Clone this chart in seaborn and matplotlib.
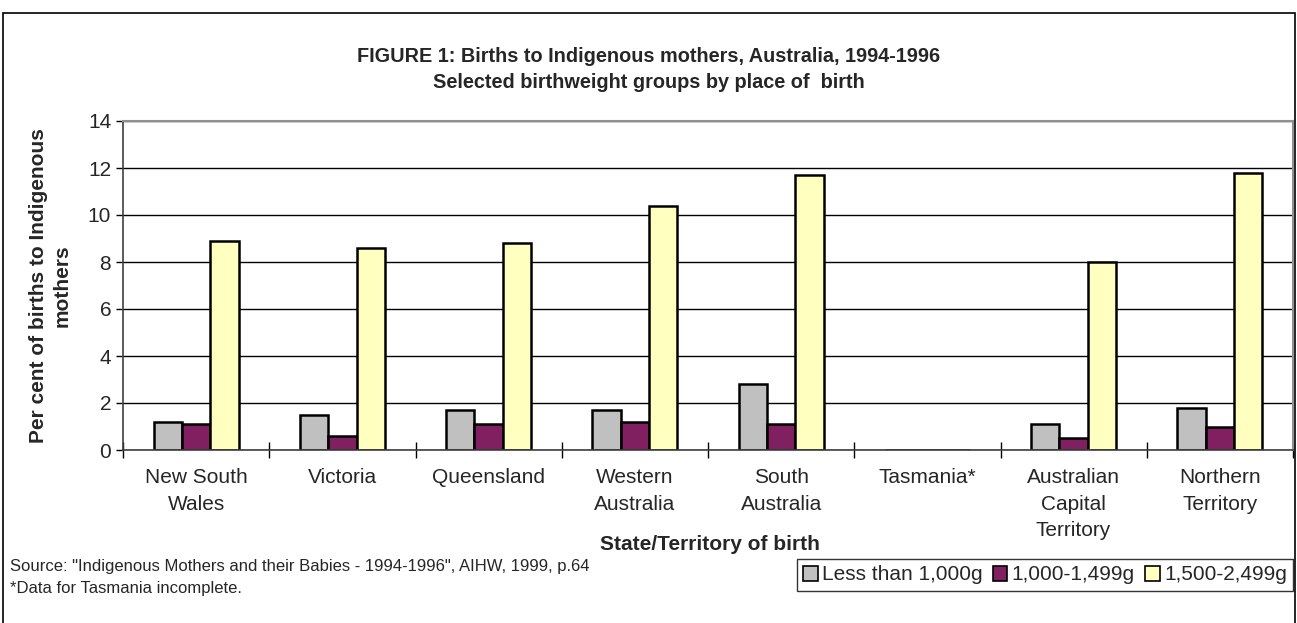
import numpy as np
import pandas as pd
import matplotlib
matplotlib.use("Agg")
import matplotlib.pyplot as plt
import seaborn as sns
from matplotlib.patches import Rectangle

# Data
states = ['New South\nWales', 'Victoria', 'Queensland', 'Western\nAustralia',
          'South\nAustralia', 'Tasmania*', 'Australian\nCapital\nTerritory',
          'Northern\nTerritory']
groups = ['Less than 1,000g', '1,000-1,499g', '1,500-2,499g']
less_1000 = [1.2, 1.5, 1.7, 1.7, 2.8, 0.0, 1.1, 1.8]
g1000_1499 = [1.1, 0.6, 1.1, 1.2, 1.1, 0.0, 0.5, 1.0]
g1500_2499 = [8.9, 8.6, 8.8, 10.4, 11.7, 0.0, 8.0, 11.8]
colors = ['#C0C0C0', '#802060', '#FFFFC0']

df = pd.DataFrame({'State': states * 3,
                   'Group': [g for g in groups for _ in states],
                   'Percent': less_1000 + g1000_1499 + g1500_2499})

sns.set_style('white')
plt.rcParams['font.family'] = ['Liberation Sans', 'DejaVu Sans']

W, H = 1297, 623
FS = 15
fig = plt.figure(figsize=(W / 100, H / 100), dpi=100)
ax = fig.add_axes([123 / W, 1 - 450 / H, (1293 - 123) / W, (450 - 121) / H])

sns.barplot(data=df, x='State', y='Percent', hue='Group', palette=colors,
            width=0.58, edgecolor='black', linewidth=1.8, saturation=1,
            legend=False, ax=ax)

ax.set_ylim(0, 14)
ax.set_yticks(np.arange(0, 15, 2))
ax.set_xlim(-0.5, len(states) - 0.5)
ax.yaxis.grid(True, color='black', linewidth=1)
ax.set_axisbelow(True)
for s in ['top', 'right']:
    ax.spines[s].set_color('#909090')
    ax.spines[s].set_linewidth(1.5)
for s in ['left', 'bottom']:
    ax.spines[s].set_color('#404040')
    ax.spines[s].set_linewidth(1.2)

ax.tick_params(axis='x', which='major', length=0, labelsize=FS, pad=13)
ax.set_xticks(np.arange(len(states) + 1) - 0.5, minor=True)
ax.tick_params(axis='x', which='minor', bottom=True, length=12,
               direction='inout', width=1, color='black')
ax.tick_params(axis='y', length=5, labelsize=FS, left=True, width=1, color='black')
for lbl in ax.get_xticklabels():
    lbl.set_verticalalignment('top')
    lbl.set_linespacing(1.5)

ax.set_xlabel('')
ax.set_ylabel('Per cent of births to Indigenous\nmothers', fontsize=FS,
              fontweight='bold', labelpad=12, linespacing=1.3)
fig.text(710 / W, 1 - 545 / H, 'State/Territory of birth', ha='center',
         va='center', fontsize=FS, fontweight='bold')

fig.text(0.5, 1 - 57 / H, 'FIGURE 1: Births to Indigenous mothers, Australia, 1994-1996',
         ha='center', va='center', fontsize=14.3, fontweight='bold')
fig.text(0.5, 1 - 82 / H, 'Selected birthweight groups by place of  birth',
         ha='center', va='center', fontsize=14.3, fontweight='bold')

fig.text(10 / W, 1 - 567 / H, 'Source: "Indigenous Mothers and their Babies - 1994-1996", AIHW, 1999, p.64',
         ha='left', va='center', fontsize=12)
fig.text(10 / W, 1 - 588 / H, '*Data for Tasmania incomplete.',
         ha='left', va='center', fontsize=12)

handles = [Rectangle((0, 0), 1, 1, facecolor=c, edgecolor='black', linewidth=1.2)
           for c in colors]
leg = fig.legend(handles, groups, loc='center right', ncol=3,
                 bbox_to_anchor=(1293 / W, 1 - 575 / H), fontsize=FS,
                 frameon=True, fancybox=False, handlelength=0.7, handleheight=0.7,
                 handletextpad=0.2, columnspacing=0.5, borderpad=0.3,
                 borderaxespad=0)
leg.get_frame().set_edgecolor('black')
leg.get_frame().set_linewidth(1)

# outer chart border
fig.patches.append(Rectangle((3 / W, -0.05), (W - 5) / W, 1.05 - 13 / H,
                             transform=fig.transFigure, fill=False,
                             edgecolor='black', linewidth=1.2))

fig.savefig('out.png', dpi=100)
